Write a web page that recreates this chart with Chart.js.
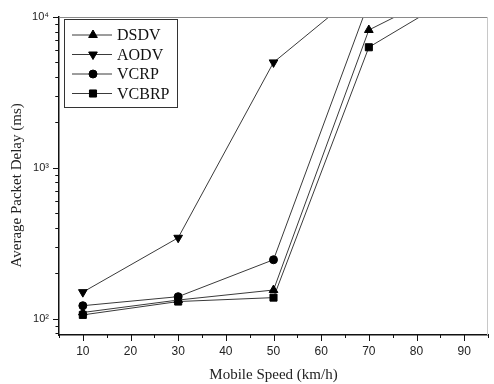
<!DOCTYPE html>
<html>
<head>
<meta charset="utf-8">
<script src="https://cdn.jsdelivr.net/npm/chart.js@4.4.1/dist/chart.umd.min.js"></script>
<style>
  html, body { margin: 0; padding: 0; background: #fff; }
  #wrap { width: 494px; height: 384px; }
</style>
</head>
<body>
<div id="wrap"><canvas id="delayChart"></canvas></div>
<script>
// ── Data ────────────────────────────────────────────────────────
const speeds = [10, 30, 50, 70, 90];
const dsdv   = [110, 133, 155, 8200, 17000];
const aodv   = [150, 344, 5000, 16500, 40000];
const vcrp   = [122, 140, 246, 12600, 25000];
const vcbrp  = [106, 130, 138, 6300, 15000];

const xTicks      = [10, 20, 30, 40, 50, 60, 70, 80, 90];
const xMinorTicks = [5, 15, 25, 35, 45, 55, 65, 75, 85, 95];
const yTicks      = [100, 1000, 10000];
const yTickLabels = ["10\u00B2", "10\u00B3", "10\u2074"];
const yMinorMult  = [2, 3, 4, 5, 6, 7, 8, 9];

const LINE = "#3a3a3a";
const SERIF = "'Liberation Serif', 'Times New Roman', serif";
const SANS = "'Liberation Sans', Arial, sans-serif";

function series(label, data, style, rotation) {
  return {
    label, data,
    borderColor: LINE,
    borderWidth: 1,
    pointStyle: style,
    rotation: rotation || 0,
    pointRadius: style === "circle" ? 4 : 5,
    pointBackgroundColor: "#000",
    pointBorderColor: "#000",
    pointBorderWidth: 1,
    tension: 0,
    fill: false,
  };
}

// ── Minor/major tick marks drawn outside the axes ──────────────
const tickMarks = {
  id: "tickMarks",
  afterDraw(chart) {
    const { ctx, chartArea: a, scales: { x, y } } = chart;
    ctx.save();
    ctx.strokeStyle = "#111";
    ctx.lineWidth = 1;
    ctx.beginPath();
    xTicks.forEach(v => {
      const px = Math.round(x.getPixelForValue(v)) + 0.5;
      ctx.moveTo(px, a.bottom); ctx.lineTo(px, a.bottom + 6);
    });
    xMinorTicks.forEach(v => {
      const px = Math.round(x.getPixelForValue(v)) + 0.5;
      ctx.moveTo(px, a.bottom); ctx.lineTo(px, a.bottom + 3);
    });
    yTicks.forEach(v => {
      const py = Math.round(y.getPixelForValue(v)) + 0.5;
      ctx.moveTo(a.left, py); ctx.lineTo(a.left - 6, py);
      yMinorMult.forEach(m => {
        [v * m, v * m / 10].forEach(mv => {
          if (mv < y.min || mv > y.max || mv === v * 10) return;
          const pm = Math.round(y.getPixelForValue(mv)) + 0.5;
          ctx.moveTo(a.left, pm); ctx.lineTo(a.left - 3.5, pm);
        });
      });
    });
    ctx.stroke();

    // frame top and right
    ctx.strokeStyle = "#8a8a8a";
    ctx.beginPath();
    ctx.moveTo(a.left, a.top + 0.5); ctx.lineTo(a.right, a.top + 0.5);
    ctx.stroke();
    ctx.strokeStyle = "#c8c8c8";
    ctx.beginPath();
    ctx.moveTo(a.right - 0.5, a.top); ctx.lineTo(a.right - 0.5, a.bottom);
    ctx.stroke();
    ctx.restore();
  }
};

// ── Boxed legend in the top-left corner ────────────────────────
const boxLegend = {
  id: "boxLegend",
  afterDraw(chart) {
    const { ctx, chartArea: a } = chart;
    const left = a.left + 5, top = a.top + 2;
    const w = 113, h = 88, rowH = 19.5;
    ctx.save();
    ctx.fillStyle = "#fff";
    ctx.fillRect(left, top, w, h);
    ctx.strokeStyle = "#333";
    ctx.lineWidth = 1;
    ctx.strokeRect(left + 0.5, top + 0.5, w, h);
    chart.data.datasets.forEach((ds, i) => {
      const cy = top + 16 + i * rowH;
      ctx.strokeStyle = LINE;
      ctx.beginPath();
      ctx.moveTo(left + 8, cy); ctx.lineTo(left + 48, cy);
      ctx.stroke();
      ctx.fillStyle = "#000";
      ctx.strokeStyle = "#000";
      Chart.helpers.drawPoint(ctx, {
        pointStyle: ds.pointStyle, radius: ds.pointRadius,
        rotation: ds.rotation, borderWidth: 1
      }, left + 29, cy);
      ctx.fillStyle = "#111";
      ctx.font = "16px " + SERIF;
      ctx.textBaseline = "middle";
      ctx.fillText(ds.label, left + 53, cy + 1);
    });
    ctx.restore();
  }
};

new Chart(document.getElementById("delayChart"), {
  type: "line",
  data: {
    datasets: [
      series("DSDV", speeds.map((s, i) => ({ x: s, y: dsdv[i] })), "triangle"),
      series("AODV", speeds.map((s, i) => ({ x: s, y: aodv[i] })), "triangle", 180),
      series("VCRP", speeds.map((s, i) => ({ x: s, y: vcrp[i] })), "circle"),
      series("VCBRP", speeds.map((s, i) => ({ x: s, y: vcbrp[i] })), "rect"),
    ],
  },
  options: {
    responsive: true,
    maintainAspectRatio: false,
    animation: false,
    layout: { padding: { top: 17, right: 2, left: 0, bottom: 0 } },
    plugins: {
      legend: { display: false },
      tooltip: { enabled: false },
    },
    scales: {
      x: {
        type: "linear",
        min: 5,
        max: 95,
        afterBuildTicks: (scale) => { scale.ticks = xTicks.map(v => ({ value: v })); },
        afterFit: (scale) => { scale.height = 49; },
        grid: { display: false, drawTicks: false },
        border: { display: true, color: "#111", width: 1.5 },
        ticks: {
          font: { family: SANS, size: 12 },
          color: "#222",
          padding: 9,
          maxRotation: 0,
          autoSkip: false,
        },
        title: {
          display: true,
          text: "Mobile Speed (km/h)",
          font: { family: SERIF, size: 15 },
          color: "#222",
          padding: { top: 2, bottom: 0 },
        },
      },
      y: {
        type: "logarithmic",
        min: 78,
        max: 10000,
        afterBuildTicks: (scale) => { scale.ticks = yTicks.map(v => ({ value: v })); },
        afterFit: (scale) => { scale.width = 59; },
        grid: { display: false, drawTicks: false },
        border: { display: true, color: "#111", width: 1.5 },
        ticks: {
          font: { family: SANS, size: 11 },
          color: "#222",
          padding: 10,
          autoSkip: false,
          callback: (val) => {
            const i = yTicks.indexOf(val);
            return i >= 0 ? yTickLabels[i] : "";
          },
        },
        title: {
          display: true,
          // trailing spaces nudge the rotated title down like the original
          text: "Average Packet Delay (ms)\u00A0\u00A0\u00A0\u00A0\u00A0",
          font: { family: SERIF, size: 15 },
          color: "#222",
          padding: { top: 8, bottom: 0 },
        },
      },
    },
  },
  plugins: [tickMarks, boxLegend],
});
</script>
</body>
</html>
